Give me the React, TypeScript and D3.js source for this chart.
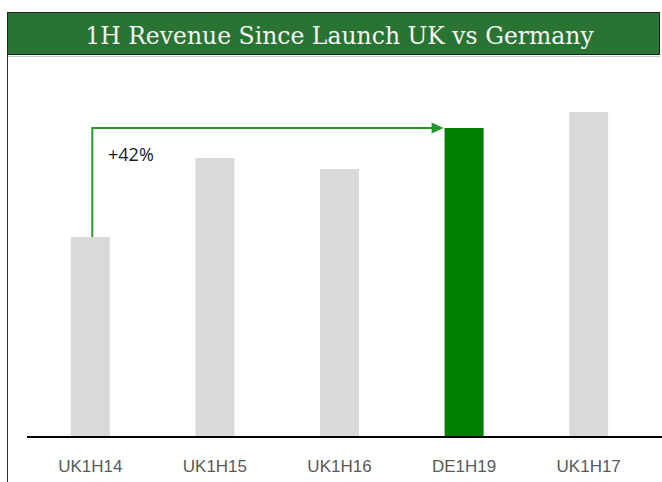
import React from "react";
import * as d3 from "d3";

const categories = ["UK1H14", "UK1H15", "UK1H16", "DE1H19", "UK1H17"];
const revenue = [200, 279, 268, 309, 325];
const highlight = ["DE1H19"];
const titleText = "1H Revenue Since Launch UK vs Germany";
const annotationText = "+42%";
const annotationFrom = "UK1H14";
const annotationTo = "DE1H19";

const W = 662;
const H = 482;

export default function App() {
  const x = d3.scaleBand<string>().domain(categories).range([28, 651]).paddingInner(0.687).paddingOuter(0.3435);
  const y = d3.scaleLinear().domain([0, 350]).range([437, 87]);
  const bw = x.bandwidth();
  const fromX = (x(annotationFrom) as number) + bw / 2 + 2;
  const fromY = y(revenue[categories.indexOf(annotationFrom)]);
  const toX = x(annotationTo) as number;
  const toY = y(revenue[categories.indexOf(annotationTo)]);
  const arrowPath = d3.path();
  arrowPath.moveTo(fromX, fromY);
  arrowPath.lineTo(fromX, toY);
  arrowPath.lineTo(toX - 12, toY);

  return (
    <svg width={W} height={H} style={{ position: "absolute", left: 0, top: 0, display: "block" }}>
      <rect x={0} y={0} width={W} height={H} fill="#ffffff" />
      {/* title bar */}
      <rect x={7.5} y={12.5} width={652} height={42} fill="#2a7433" stroke="#222" strokeWidth={1} />
      <line x1={8} x2={660} y1={56.5} y2={56.5} stroke="#c8c8c8" strokeWidth={1} />
      <line x1={7.5} x2={7.5} y1={55} y2={H} stroke="#333" strokeWidth={1} />
      <text x={339.5} y={44} textAnchor="middle" fill="#f4f4f4" fontFamily="'DejaVu Serif', serif" fontSize={23.5}>
        {titleText}
      </text>
      {/* bars */}
      {categories.map((c, i) => (
        <rect
          key={c}
          x={x(c)}
          y={y(revenue[i])}
          width={bw}
          height={y(0) - y(revenue[i])}
          fill={highlight.includes(c) ? "#008000" : "#d9d9d9"}
        />
      ))}
      {/* axis */}
      <line x1={27} x2={W} y1={y(0)} y2={y(0)} stroke="#000" strokeWidth={2} />
      {categories.map((c) => (
        <text
          key={c}
          x={(x(c) as number) + bw / 2}
          y={472}
          textAnchor="middle"
          fill="#595959"
          fontFamily="'Liberation Sans', Arial, sans-serif"
          fontSize={17}
        >
          {c}
        </text>
      ))}
      {/* annotation arrow */}
      <path d={arrowPath.toString()} fill="none" stroke="#22992a" strokeWidth={2} />
      <path d={`M${toX - 13},${toY - 5.5} L${toX - 1},${toY} L${toX - 13},${toY + 5.5} Z`} fill="#22992a" />
      <text x={108} y={161} fill="#1a1a1a" fontFamily="'Open Sans', sans-serif" fontSize={18}>
        {annotationText}
      </text>
    </svg>
  );
}
